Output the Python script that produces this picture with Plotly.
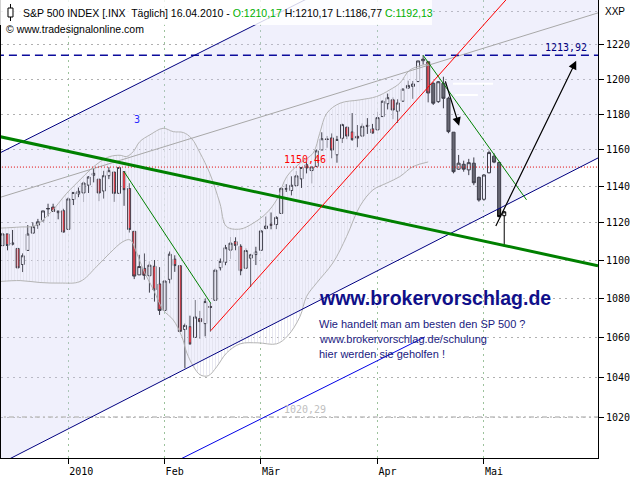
import numpy as np
import plotly.graph_objects as go

# S&P 500 daily bars, 14.12.2009 - 16.04.2010
dates = [
    "2009-12-14", "2009-12-15", "2009-12-16", "2009-12-17", "2009-12-18",
    "2009-12-21", "2009-12-22", "2009-12-23", "2009-12-24", "2009-12-28",
    "2009-12-29", "2009-12-30", "2009-12-31",
    "2010-01-04", "2010-01-05", "2010-01-06", "2010-01-07", "2010-01-08",
    "2010-01-11", "2010-01-12", "2010-01-13", "2010-01-14", "2010-01-15",
    "2010-01-19", "2010-01-20", "2010-01-21", "2010-01-22",
    "2010-01-25", "2010-01-26", "2010-01-27", "2010-01-28", "2010-01-29",
    "2010-02-01", "2010-02-02", "2010-02-03", "2010-02-04", "2010-02-05",
    "2010-02-08", "2010-02-09", "2010-02-10", "2010-02-11", "2010-02-12",
    "2010-02-16", "2010-02-17", "2010-02-18", "2010-02-19",
    "2010-02-22", "2010-02-23", "2010-02-24", "2010-02-25", "2010-02-26",
    "2010-03-01", "2010-03-02", "2010-03-03", "2010-03-04", "2010-03-05",
    "2010-03-08", "2010-03-09", "2010-03-10", "2010-03-11", "2010-03-12",
    "2010-03-15", "2010-03-16", "2010-03-17", "2010-03-18", "2010-03-19",
    "2010-03-22", "2010-03-23", "2010-03-24", "2010-03-25", "2010-03-26",
    "2010-03-29", "2010-03-30", "2010-03-31",
    "2010-04-01", "2010-04-05", "2010-04-06", "2010-04-07", "2010-04-08",
    "2010-04-09", "2010-04-12", "2010-04-13", "2010-04-14", "2010-04-15",
    "2010-04-16",
]
opens = [
    1107.84, 1114.11, 1108.61, 1106.36, 1097.86, 1105.31, 1114.51, 1118.84, 1121.08, 1127.53,
    1128.55, 1125.53, 1126.60, 1116.56, 1132.66, 1135.71, 1136.27, 1140.52, 1145.96, 1143.81,
    1137.31, 1145.68, 1147.72, 1136.03, 1147.95, 1138.68, 1115.49, 1092.40, 1095.80, 1091.94,
    1096.93, 1087.61, 1073.89, 1090.05, 1100.67, 1097.25, 1064.12, 1065.51, 1060.06, 1069.68,
    1067.10, 1075.95, 1079.13, 1096.14, 1099.03, 1105.49, 1110.00, 1107.49, 1095.89, 1101.24,
    1103.10, 1105.36, 1117.01, 1119.36, 1119.12, 1125.12, 1138.40, 1137.56, 1140.22, 1143.96,
    1151.71, 1148.53, 1150.83, 1159.94, 1166.13, 1166.68, 1157.25, 1166.47, 1172.70, 1170.03,
    1167.58, 1167.71, 1173.75, 1171.75, 1171.23, 1178.71, 1186.01, 1188.23, 1181.75, 1187.47,
    1194.94, 1195.94, 1198.69, 1210.77, 1210.17,
]
highs = [
    1114.76, 1114.11, 1116.21, 1106.36, 1103.74, 1118.86, 1120.27, 1122.18, 1126.48, 1130.38,
    1130.38, 1126.42, 1127.64, 1133.87, 1136.63, 1139.19, 1142.46, 1145.39, 1149.74, 1143.81,
    1148.40, 1150.41, 1147.77, 1150.45, 1147.95, 1141.58, 1115.49, 1102.97, 1103.69, 1099.51,
    1100.22, 1096.45, 1089.38, 1104.73, 1102.72, 1097.25, 1067.13, 1071.20, 1079.28, 1073.67,
    1080.04, 1077.81, 1095.67, 1101.03, 1108.24, 1112.42, 1112.29, 1108.58, 1106.42, 1103.50,
    1107.24, 1116.11, 1123.46, 1125.64, 1123.73, 1139.38, 1141.05, 1145.37, 1148.26, 1150.24,
    1153.41, 1150.98, 1160.28, 1169.84, 1167.77, 1169.20, 1167.82, 1174.72, 1173.04, 1180.69,
    1173.93, 1174.85, 1177.83, 1174.56, 1181.43, 1187.73, 1191.80, 1189.60, 1188.55, 1194.66,
    1199.20, 1199.04, 1210.65, 1213.92, 1210.17,
]
lows = [
    1107.84, 1105.35, 1107.96, 1095.88, 1093.88, 1105.31, 1114.51, 1116.80, 1121.08, 1123.51,
    1126.08, 1121.94, 1114.81, 1116.56, 1129.66, 1133.95, 1131.32, 1136.22, 1142.02, 1131.77,
    1133.18, 1143.80, 1131.39, 1135.77, 1129.25, 1114.84, 1090.18, 1092.40, 1089.86, 1083.11,
    1078.46, 1071.59, 1073.89, 1087.96, 1093.97, 1062.78, 1044.50, 1056.51, 1060.06, 1059.34,
    1060.59, 1062.97, 1079.13, 1094.72, 1097.48, 1100.80, 1105.38, 1092.18, 1095.50, 1086.02,
    1097.56, 1105.36, 1116.51, 1116.58, 1116.66, 1125.12, 1136.77, 1134.90, 1140.09, 1138.99,
    1146.97, 1141.45, 1150.35, 1159.94, 1161.16, 1155.33, 1152.88, 1163.83, 1166.01, 1165.09,
    1161.48, 1167.71, 1168.92, 1169.15, 1170.69, 1178.71, 1182.77, 1177.25, 1175.12, 1187.15,
    1194.71, 1188.82, 1198.69, 1208.50, 1186.77,
]
closes = [
    1114.11, 1107.93, 1109.18, 1096.08, 1102.47, 1114.05, 1118.02, 1120.59, 1126.48, 1127.78,
    1126.20, 1126.42, 1115.10, 1132.99, 1136.52, 1137.14, 1141.69, 1144.98, 1146.98, 1136.22,
    1145.68, 1148.46, 1136.03, 1150.23, 1138.04, 1116.48, 1091.76, 1096.78, 1092.17, 1097.50,
    1084.53, 1073.87, 1089.19, 1103.32, 1097.28, 1063.11, 1066.19, 1056.74, 1070.52, 1068.13,
    1078.47, 1075.51, 1094.87, 1099.51, 1106.75, 1109.17, 1108.01, 1094.60, 1105.24, 1102.94,
    1104.49, 1115.71, 1118.31, 1118.79, 1122.97, 1138.70, 1138.50, 1140.45, 1145.61, 1150.24,
    1149.99, 1150.51, 1159.46, 1166.21, 1165.83, 1159.90, 1165.81, 1174.17, 1167.72, 1165.73,
    1166.59, 1173.22, 1173.27, 1169.43, 1178.10, 1187.44, 1189.44, 1182.45, 1186.44, 1194.37,
    1196.48, 1197.30, 1210.65, 1211.67, 1192.13,
]

# drawn-in projection bars (grey), 19.04. - 07.05.2010
proj_dates = [
    "2010-04-19", "2010-04-20", "2010-04-21", "2010-04-22", "2010-04-23",
    "2010-04-26", "2010-04-27", "2010-04-28", "2010-04-29", "2010-04-30",
    "2010-05-03", "2010-05-04", "2010-05-05", "2010-05-06", "2010-05-07",
]
proj_open = [1197.7, 1187.2, 1197.7, 1189.1, 1169.9, 1149.3, 1152.0, 1148.9, 1152.6, 1144.8,
             1132.8, 1147.3, 1156.5, 1153.0, 1123.9]
proj_high = [1198.3, 1199.0, 1201.5, 1190.0, 1169.9, 1157.2, 1154.0, 1155.0, 1155.8, 1145.2,
             1146.5, 1159.6, 1158.1, 1153.4, 1126.5]
proj_low = [1185.3, 1186.5, 1183.4, 1169.3, 1147.0, 1148.9, 1147.9, 1146.0, 1140.5, 1131.5,
            1132.0, 1147.0, 1152.6, 1123.0, 1107.3]
proj_close = [1186.3, 1198.6, 1189.1, 1170.2, 1147.9, 1152.6, 1149.3, 1152.9, 1141.8, 1132.4,
              1146.1, 1158.5, 1153.2, 1123.4, 1126.0]

month_starts = ["2010-01-04", "2010-02-01", "2010-03-01", "2010-04-01", "2010-05-03"]
month_labels = ["2010", "Feb", "Mär", "Apr", "Mai"]
price_ticks = [1020, 1040, 1060, 1080, 1100, 1120, 1140, 1160, 1180, 1200, 1220]

# Bollinger band outline (bar index, price)
bb_up_x = [-0.5, 3.5, 6.4, 9.4, 12.7, 15.3, 17.3, 19.3, 21.2, 23.2, 24.5, 25.8, 27.1, 29.1,
           31.7, 33.7, 35.7, 37.3, 39.0, 40.9, 42.9, 44.2, 46.9, 49.5, 52.1, 54.1, 56.1,
           58.7, 61.3, 62.6, 64.0, 66.6, 70.5, 73.8, 76.4, 78.4, 80.4, 84.0]
bb_up_y = [1117.2, 1117.8, 1118.5, 1125.3, 1136.1, 1143.4, 1148.9, 1153.5, 1156.3, 1157.0,
           1156.3, 1159.0, 1164.6, 1168.4, 1172.1, 1170.2, 1169.7, 1166.5, 1158.2, 1147.1,
           1130.7, 1118.1, 1116.7, 1119.9, 1125.3, 1132.5, 1145.2, 1152.6, 1158.2, 1169.3,
           1180.6, 1186.3, 1188.2, 1190.1, 1193.9, 1197.8, 1205.4, 1208.9]
bb_lo_x = [-0.5, 3.5, 7.4, 11.4, 15.3, 18.6, 21.2, 23.8, 25.2, 26.5, 27.8, 29.8, 31.7, 33.7,
           35.4, 36.4, 37.7, 39.0, 40.6, 42.3, 44.2, 46.9, 50.4, 54.1, 56.3, 58.7, 60.0,
           62.0, 65.2, 67.9, 70.5, 73.1, 75.8, 78.4, 81.0, 84.0]
bb_lo_y = [1088.9, 1089.4, 1088.4, 1088.1, 1088.9, 1096.8, 1103.9, 1110.0, 1110.9, 1103.9,
           1095.0, 1084.6, 1074.2, 1069.0, 1060.5, 1052.1, 1045.3, 1041.2, 1040.7, 1045.3,
           1052.1, 1056.8, 1057.3, 1056.8, 1060.9, 1070.7, 1081.1, 1088.2, 1098.7, 1112.7,
           1128.9, 1137.9, 1141.6, 1145.2, 1150.7, 1153.3]

# hand drawn lines (bar index, price)
chan_top_x, chan_top_y = [-0.5, 61.7, 120.0], [1158.3, 1249.6, 1342.0]
chan_bot_x, chan_bot_y = [-0.5, 120.0], [997.6, 1159.1]
grey_x, grey_y = [-0.5, 117.5], [1133.8, 1238.9]
trend_x, trend_y = [-0.5, 117.5], [1167.4, 1097.2]
blue_x, blue_y = [34.0, 83.35], [998.5, 1060.3]
red_x, red_y = [41.1, 100.2], [1063.5, 1249.6]
fall1_x, fall1_y = [24.0, 41.1], [1147.9, 1077.6]
fall2_x, fall2_y = [83.0, 103.4], [1213.9, 1132.5]
erase_x = [[88.9, 96.8], [89.3, 93.8]]
erase_y = [1197.4, 1191.0]

top_level = 1213.92
mid_level = 1150.46
low_level = 1020.29

# arrows: (tail index, tail price, head index, head price)
arrows = [(87.3, 1199.7, 90.1, 1173.5), (97.2, 1117.6, 113.2, 1210.7)]

NAVY = "#000080"
GREEN = "#008000"
MONO = "DejaVu Sans Mono"


def de(v):
    return f"{v:.2f}".replace(".", ",")


x_real = list(range(len(dates)))
x_proj = list(range(len(dates), len(dates) + len(proj_dates)))
all_dates = dates + proj_dates
month_x = [all_dates.index(d) for d in month_starts]
x0, x1 = -0.28, 117.5

fig = go.Figure()

# regression channel background
fig.add_trace(go.Scatter(
    x=chan_top_x + chan_bot_x[::-1], y=chan_top_y + chan_bot_y[::-1],
    fill="toself", fillcolor="rgba(205,205,245,0.3)", line=dict(width=0),
    mode="lines", hoverinfo="skip"))

# bollinger band area
fig.add_trace(go.Scatter(
    x=bb_up_x + bb_lo_x[::-1], y=bb_up_y + bb_lo_y[::-1],
    fill="toself", fillcolor="rgba(250,250,255,0.3)",
    fillpattern=dict(shape="|", fgcolor="#e0e0ec", size=3, solidity=0.25),
    line=dict(width=0), mode="lines", hoverinfo="skip"))
for bx, by in [(bb_up_x, bb_up_y), (bb_lo_x, bb_lo_y)]:
    fig.add_trace(go.Scatter(x=bx, y=by, mode="lines", line=dict(color="#b4b4b4", width=1),
                             line_shape="spline", hoverinfo="skip"))

fig.add_trace(go.Scatter(x=grey_x, y=grey_y, mode="lines",
                         line=dict(color="#a8a8a8", width=1), hoverinfo="skip"))

# horizontal levels
fig.add_trace(go.Scatter(x=[x0 - 1, x1 + 1], y=[top_level] * 2, mode="lines",
                         line=dict(color="#0c0c9c", width=1.4, dash="8px,5px"),
                         hoverinfo="skip"))
fig.add_trace(go.Scatter(x=[x0 - 1, x1 + 1], y=[mid_level] * 2, mode="lines",
                         line=dict(color="#e00000", width=1, dash="1px,2px"),
                         hoverinfo="skip"))
fig.add_trace(go.Scatter(x=[x0 - 1, x1 + 1], y=[low_level] * 2, mode="lines",
                         line=dict(color="#c0c0c0", width=1.3, dash="5px,3px,2px,3px"),
                         hoverinfo="skip"))

for lx, ly, col, w in [
    (chan_top_x, chan_top_y, NAVY, 1),
    (chan_bot_x, chan_bot_y, NAVY, 1),
    (blue_x, blue_y, "#0000e6", 1),
    (trend_x, trend_y, GREEN, 3),
    (fall1_x, fall1_y, GREEN, 1),
    (fall2_x, fall2_y, GREEN, 1),
    (red_x, red_y, "#ff0000", 1),
]:
    fig.add_trace(go.Scatter(x=lx, y=ly, mode="lines", line=dict(color=col, width=w),
                             hoverinfo="skip"))

for ex, ey in zip(erase_x, erase_y):
    fig.add_trace(go.Scatter(x=ex, y=[ey, ey], mode="lines",
                             line=dict(color="white", width=2), hoverinfo="skip"))

fig.add_trace(go.Candlestick(
    x=x_real, open=opens, high=highs, low=lows, close=closes,
    increasing=dict(fillcolor="white", line=dict(color="black", width=1)),
    decreasing=dict(fillcolor="#dd0000", line=dict(color="black", width=1)),
    hoverinfo="skip"))
fig.add_trace(go.Candlestick(
    x=x_proj, open=proj_open, high=proj_high, low=proj_low, close=proj_close,
    increasing=dict(fillcolor="white", line=dict(color="black", width=1)),
    decreasing=dict(fillcolor="#3c3c3c", line=dict(color="black", width=1)),
    hoverinfo="skip"))

ann = []
for tx, ty, hx, hy in arrows:
    ann.append(dict(x=hx, y=np.log10(hy), ax=tx, ay=np.log10(ty), axref="x", ayref="y",
                    xref="x", yref="y", text="", showarrow=True, arrowhead=2,
                    arrowsize=1.4, arrowwidth=1.2, arrowcolor="black"))

# level labels
ann.append(dict(x=106.6, y=np.log10(top_level), xref="x", yref="y", text=de(top_level),
                showarrow=False, xanchor="left", yanchor="bottom",
                font=dict(family=MONO, size=10, color=NAVY)))
ann.append(dict(x=55.2, y=np.log10(mid_level), xref="x", yref="y", text=de(mid_level),
                showarrow=False, xanchor="left", yanchor="bottom",
                font=dict(family=MONO, size=10, color="#ff0000")))
ann.append(dict(x=55.2, y=np.log10(low_level), xref="x", yref="y", text=de(low_level),
                showarrow=False, xanchor="left", yanchor="bottom",
                font=dict(family=MONO, size=10, color="#c0c0c0")))

green = "<span style='color:#00b000'>"
title = (f"S&amp;P 500 INDEX [.INX\u00a0 Täglich] 16.04.2010 - {green}O:{de(opens[-1])}</span>"
         f" H:{de(highs[-1])} L:{de(lows[-1])} {green}C:{de(closes[-1])}</span>")
ann.append(dict(x=0.033, y=0.9727, xref="paper", yref="paper", text=title, showarrow=False,
                xanchor="left", yanchor="middle",
                font=dict(family="Liberation Sans", size=10.5, color="black")))
ann.append(dict(x=0.005, y=0.9367, xref="paper", yref="paper",
                text="© www.tradesignalonline.com", showarrow=False, xanchor="left",
                yanchor="middle", font=dict(family="Liberation Sans", size=10.5, color="black")))
ann.append(dict(x=1.008, y=0.9738, xref="paper", yref="paper", text="XXP", showarrow=False,
                xanchor="left", yanchor="middle",
                font=dict(family="Liberation Sans", size=10, color="black")))
ann.append(dict(x=0.2189, y=0.7561, xref="paper", yref="paper", text="3", showarrow=False,
                font=dict(family=MONO, size=10, color="#2a2aff")))
ann.append(dict(x=0.5288, y=0.3493, xref="paper", yref="paper", text="<b>www.brokervorschlag.de</b>",
                showarrow=False, xanchor="left", yanchor="middle",
                font=dict(family="Liberation Sans", size=19.5, color="#10108a")))
for txt, yy in [("Wie handelt man am besten den SP 500 ?", 0.2919),
                ("www.brokervorschlag.de/schulung", 0.2592),
                ("hier werden sie geholfen !", 0.2271)]:
    ann.append(dict(x=0.5288, y=yy, xref="paper", yref="paper", text=txt, showarrow=False,
                    xanchor="left", yanchor="middle",
                    font=dict(family="Liberation Sans", size=11, color="#1a1a80")))

shapes = [
    dict(type="rect", xref="paper", yref="paper", x0=-0.002, x1=0.722, y0=0.9454, y1=1.0,
         fillcolor="rgba(255,255,255,0.82)", line=dict(width=0), layer="above"),
    dict(type="line", xref="paper", yref="paper", x0=0.0159, x1=0.0159, y0=0.9541, y1=0.9913,
         line=dict(color="black", width=1), layer="above"),
    dict(type="rect", xref="paper", yref="paper", x0=0.0117, x1=0.0201, y0=0.9629, y1=0.9825,
         fillcolor="white", line=dict(color="black", width=1), layer="above"),
]

fig.update_layout(
    width=640, height=480, template="none",
    margin=dict(l=1, r=42, t=0, b=22),
    paper_bgcolor="white", plot_bgcolor="white",
    showlegend=False, boxgap=0.15,
    font=dict(family="Liberation Sans", size=10, color="black"),
    annotations=ann, shapes=shapes,
)
fig.update_xaxes(
    range=[x0, x1], tickmode="array", tickvals=month_x, ticktext=month_labels,
    ticks="outside", ticklen=5, tickcolor="black", ticklabelposition="outside right",
    ticklabelstandoff=4,
    tickfont=dict(family=MONO, size=10, color="black"),
    showgrid=True, gridcolor="#9cc29c", griddash="2px,4px", gridwidth=1,
    showline=True, linecolor="black", linewidth=1, zeroline=False,
    rangeslider=dict(visible=False), automargin=False,
)
fig.update_yaxes(
    type="log", range=[np.log10(1000.4), np.log10(1246.6)], side="right",
    tickmode="array", tickvals=price_ticks, ticktext=[str(v) for v in price_ticks],
    ticks="outside", ticklen=5, tickcolor="black",
    tickfont=dict(family=MONO, size=10, color="black"),
    showgrid=True, gridcolor="#b0b0b0", griddash="2px,4px", gridwidth=1,
    minor=dict(tickmode="array", tickvals=[1240], showgrid=True, ticks="",
               gridcolor="#b0b0b0", griddash="2px,4px"),
    showline=True, linecolor="black", linewidth=1, mirror=True, zeroline=False,
    automargin=False,
)

# the page body has a default 8px margin; drop it so the chart sits at the window corner
fig.write_html("out.html", config=dict(displayModeBar=False),
               post_script="document.body.style.margin='0';")
